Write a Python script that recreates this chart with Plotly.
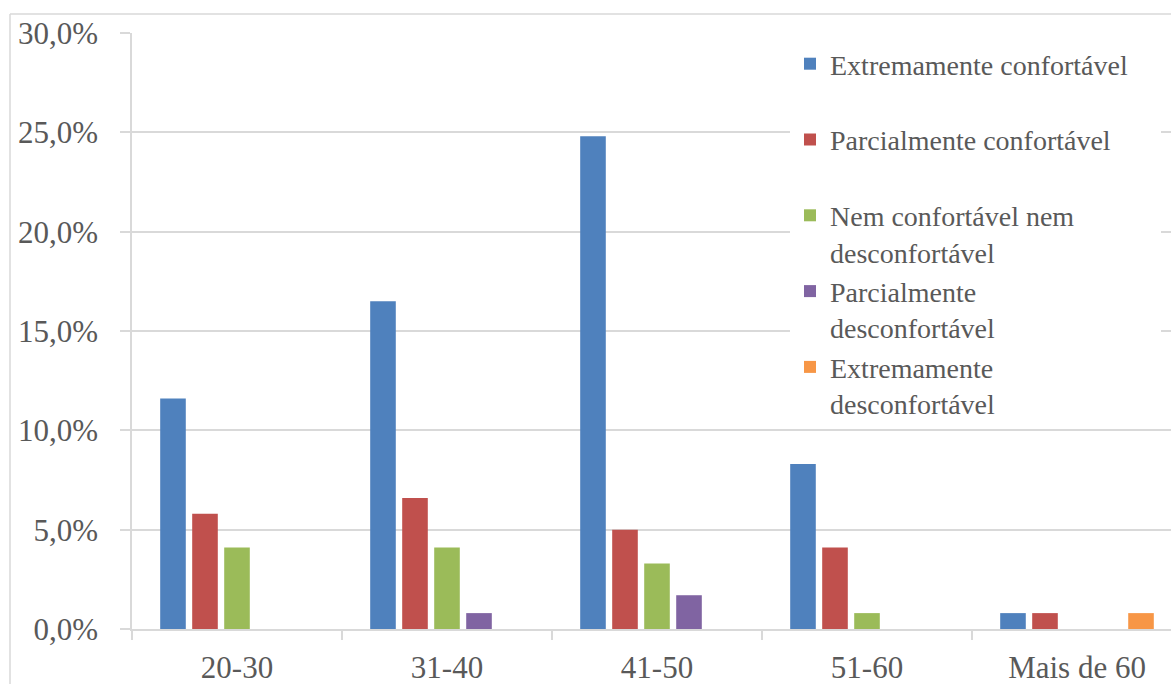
import plotly.graph_objects as go

# Age groups and share of respondents per comfort level
faixas = ["20-30", "31-40", "41-50", "51-60", "Mais de 60"]
series = [
    "Extremamente confortável",
    "Parcialmente confortável",
    "Nem confortável nem desconfortável",
    "Parcialmente desconfortável",
    "Extremamente desconfortável",
]
extremamente_confortavel = [0.116, 0.165, 0.248, 0.083, 0.008]
parcialmente_confortavel = [0.058, 0.066, 0.050, 0.041, 0.008]
nem_nem = [0.041, 0.041, 0.033, 0.008, 0.0]
parcialmente_desconfortavel = [0.0, 0.008, 0.017, 0.0, 0.0]
extremamente_desconfortavel = [0.0, 0.0, 0.0, 0.0, 0.008]

valores = [
    extremamente_confortavel,
    parcialmente_confortavel,
    nem_nem,
    parcialmente_desconfortavel,
    extremamente_desconfortavel,
]
# legend labels, each entry occupies two lines; padding widens the legend box
rotulos = [
    "Extremamente confortável&nbsp;&nbsp;&nbsp;&nbsp;<br> ",
    "Parcialmente confortável<br> ",
    "Nem confortável nem<br>desconfortável",
    "Parcialmente<br>desconfortável",
    "Extremamente<br>desconfortável",
]
cores = ["#4F81BD", "#C0504D", "#9BBB59", "#8064A2", "#F79646"]
y_ticks = [0.0, 0.05, 0.10, 0.15, 0.20, 0.25, 0.30]

W, H = 1171, 684
ML, MR, MT, MB = 132, 0, 33, 55
PW, PH = W - ML - MR, H - MT - MB
CAT_PX = 210  # width of one category band

FONT = "Liberation Serif"
TXT = "#595959"
GRID = "#D9D9D9"

fig = go.Figure()
for nome, rot, vals, cor in zip(series, rotulos, valores, cores):
    fig.add_trace(go.Bar(
        x=faixas, y=vals, name=rot, marker=dict(color=cor, line=dict(width=0)),
        hovertemplate=nome + ": %{y:.1%}<extra></extra>",
    ))

def px_x(px):
    return (px - ML) / PW

def px_y(py):
    return 1 - (py - MT) / PH

# outer chart frame (top and left edges)
frame = dict(type="line", xref="paper", yref="paper", line=dict(color=GRID, width=1.5))
fig.add_shape(**frame, x0=px_x(10), x1=px_x(W + 5), y0=px_y(14), y1=px_y(14))
fig.add_shape(**frame, x0=px_x(10), x1=px_x(10), y0=px_y(14), y1=px_y(H + 5))

fig.update_layout(
    width=W, height=H,
    margin=dict(l=ML, r=MR, t=MT, b=MB),
    paper_bgcolor="white", plot_bgcolor="white",
    separators=",.",
    barmode="group", bargap=0.238, bargroupgap=0.2,
    font=dict(family=FONT, color=TXT),
    showlegend=True,
    legend=dict(
        x=px_x(790), y=px_y(39), xanchor="left", yanchor="top",
        bgcolor="white", borderwidth=0,
        font=dict(family=FONT, size=28, color=TXT),
        valign="top", traceorder="normal", itemclick=False,
    ),
)
fig.update_xaxes(
    type="category", range=[-0.5, -0.5 + PW / CAT_PX],
    tickson="boundaries", ticks="outside", ticklen=9, tickcolor=GRID, tickwidth=1.5,
    showline=True, linecolor=GRID, linewidth=1.5, showgrid=False,
    tickfont=dict(family=FONT, size=31, color=TXT), ticklabelstandoff=10,
)
fig.update_yaxes(
    range=[0, 0.30], tickvals=y_ticks, tickformat=".1%",
    ticks="outside", ticklen=10, tickcolor=GRID, tickwidth=1.5,
    showline=True, linecolor=GRID, linewidth=1.5,
    showgrid=True, gridcolor=GRID, gridwidth=1.5, zeroline=False,
    tickfont=dict(family=FONT, size=31, color=TXT), ticklabelstandoff=16,
)

fig.write_html("out.html")
